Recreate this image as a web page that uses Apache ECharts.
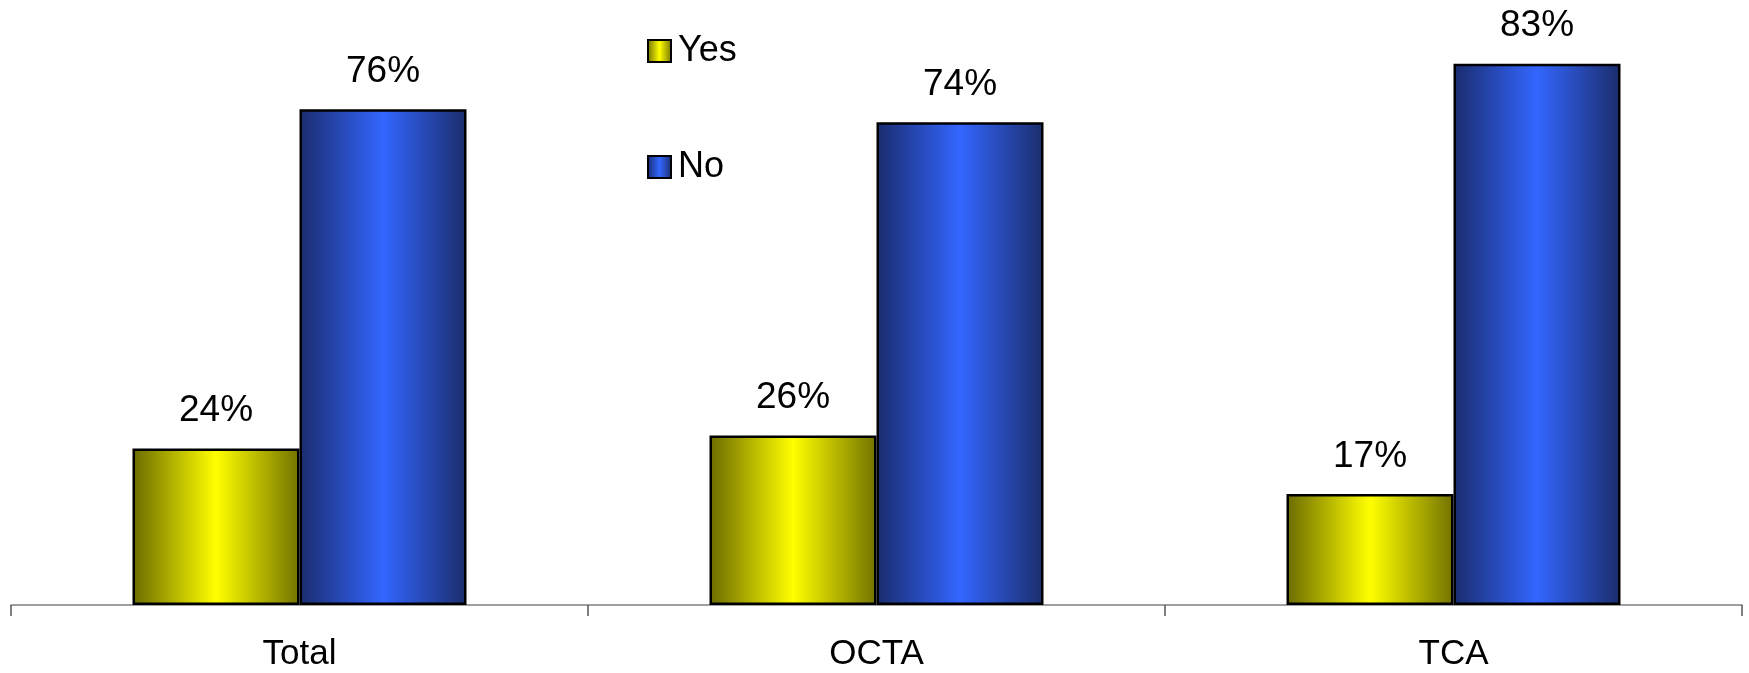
<!DOCTYPE html>
<html>
<head>
<meta charset="utf-8">
<style>
  html, body { margin: 0; padding: 0; background: #ffffff; }
  #chart { width: 1749px; height: 673px; }
</style>
<script src="https://cdn.jsdelivr.net/npm/echarts@6/dist/echarts.min.js"></script>
</head>
<body>
<div id="chart"></div>
<script>
// Share of answers per group
const categories = ['Total', 'OCTA', 'TCA'];
const yesValues = [24, 26, 17];
const noValues = [76, 74, 83];
const seriesNames = ['Yes', 'No'];

const FONT = '"Liberation Sans", Arial, sans-serif';

// Horizontal shading across each bar: dark edges, bright centre
function shade(edgeL, mid, edgeR) {
  return new echarts.graphic.LinearGradient(0, 0, 1, 0, [
    { offset: 0, color: edgeL },
    { offset: 0.5, color: mid },
    { offset: 1, color: edgeR }
  ]);
}
const yellowFill = shade('#6a6a00', '#ffff00', '#727200');
const blueFill = shade('#1a2c6e', '#3366ff', '#1b2d6c');

const labelStyle = {
  show: true,
  position: 'top',
  distance: 19,
  formatter: '{c}%',
  fontFamily: FONT,
  fontSize: 37,
  color: '#000000'
};

const chart = echarts.init(document.getElementById('chart'), null, { renderer: 'canvas' });
chart.setOption({
  backgroundColor: '#ffffff',
  animation: false,
  grid: { left: 11, right: 7, top: 18, bottom: 68, containLabel: false },
  legend: {
    orient: 'vertical',
    left: 642,
    top: 28,
    itemWidth: 23,
    itemHeight: 22,
    itemGap: 80,
    icon: 'rect',
    textStyle: { fontFamily: FONT, fontSize: 36, color: '#000000', padding: [0, 0, 0, 2] },
    data: [
      { name: seriesNames[0], itemStyle: { color: yellowFill, borderColor: '#000000', borderWidth: 2 } },
      { name: seriesNames[1], itemStyle: { color: blueFill, borderColor: '#000000', borderWidth: 2 } }
    ]
  },
  xAxis: {
    type: 'category',
    data: categories,
    boundaryGap: true,
    axisLine: { lineStyle: { color: '#808080', width: 1.5 } },
    axisTick: { show: true, length: 11, lineStyle: { color: '#555555', width: 1.5 } },
    axisLabel: { margin: 32, fontFamily: FONT, fontSize: 35, color: '#000000' },
    splitLine: { show: false }
  },
  yAxis: {
    type: 'value',
    min: 0,
    max: 90,
    show: false,
    splitLine: { show: false }
  },
  series: [
    {
      name: seriesNames[0],
      type: 'bar',
      data: yesValues,
      barWidth: 167,
      barGap: '0%',
      itemStyle: { color: yellowFill, borderColor: '#000000', borderWidth: 2.5 },
      label: labelStyle
    },
    {
      name: seriesNames[1],
      type: 'bar',
      data: noValues,
      barWidth: 167,
      barGap: '0%',
      itemStyle: { color: blueFill, borderColor: '#000000', borderWidth: 2.5 },
      label: labelStyle
    }
  ]
});
</script>
</body>
</html>
